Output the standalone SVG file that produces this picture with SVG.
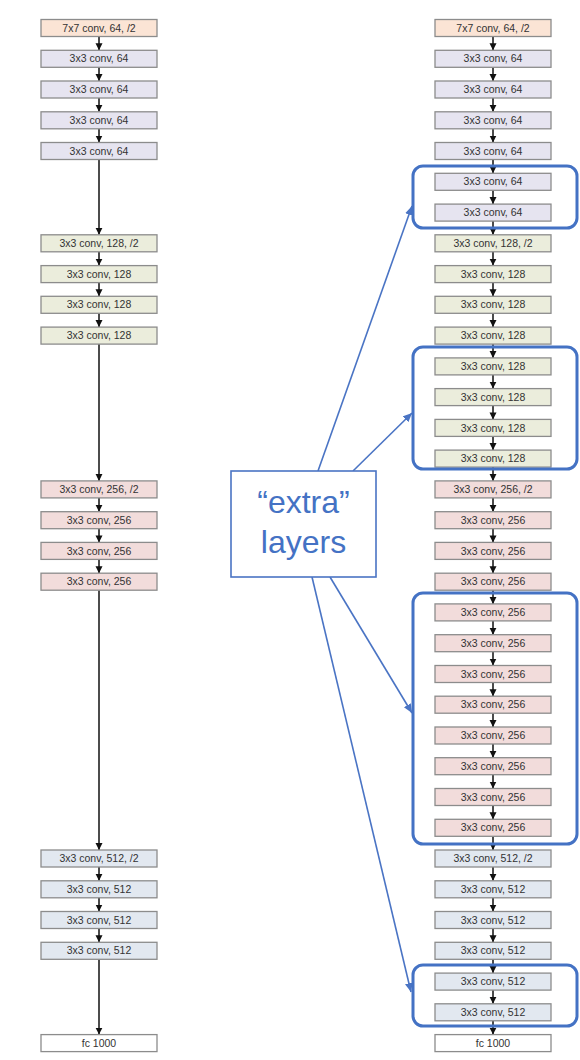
<svg xmlns="http://www.w3.org/2000/svg" width="580" height="1060" viewBox="0 0 580 1060">
<defs>
<style>
.n rect{stroke:#8c8c8c;stroke-width:1.3}
.n text{font-family:"Liberation Sans",Arial,sans-serif;font-size:10.5px;fill:#333;text-anchor:middle}
.c7 rect{fill:#fbe4d5}
.c64 rect{fill:#e6e4f0}
.c128 rect{fill:#ebeddc}
.c256 rect{fill:#f2dcdb}
.c512 rect{fill:#e2e8f0}
.cfc rect{fill:#ffffff}
.k line{stroke:#111;stroke-width:1.5;marker-end:url(#ah)}
.b line{stroke:#4a74c4;stroke-width:1.6;marker-end:url(#bh)}
.grp{fill:none;stroke:#4472c4;stroke-width:3}
.lbl{font-family:"Liberation Sans",Arial,sans-serif;font-size:32px;fill:#4472c4;text-anchor:middle}
</style>
<marker id="ah" markerUnits="userSpaceOnUse" markerWidth="8" markerHeight="8" refX="7" refY="3.5" orient="auto"><path d="M0,0 L7,3.5 L0,7 z" fill="#111"/></marker>
<marker id="bh" markerUnits="userSpaceOnUse" markerWidth="10" markerHeight="10" refX="9" refY="4" orient="auto"><path d="M0,0 L9,4 L0,8 z" fill="#4a74c4"/></marker>
</defs>
<rect width="580" height="1060" fill="#fff"/>

<g id="connectors">
<g class="k">
<line x1="99" y1="36.5" x2="99" y2="50.3"/>
<line x1="99" y1="67.3" x2="99" y2="81"/>
<line x1="99" y1="98" x2="99" y2="111.8"/>
<line x1="99" y1="128.8" x2="99" y2="142.5"/>
<line x1="99" y1="159.5" x2="99" y2="234.8"/>
<line x1="99" y1="251.8" x2="99" y2="265.6"/>
<line x1="99" y1="282.6" x2="99" y2="296.3"/>
<line x1="99" y1="313.3" x2="99" y2="327.1"/>
<line x1="99" y1="344.1" x2="99" y2="480.9"/>
<line x1="99" y1="497.9" x2="99" y2="511.7"/>
<line x1="99" y1="528.7" x2="99" y2="542.4"/>
<line x1="99" y1="559.4" x2="99" y2="573.2"/>
<line x1="99" y1="590.2" x2="99" y2="850"/>
<line x1="99" y1="867" x2="99" y2="880.8"/>
<line x1="99" y1="897.8" x2="99" y2="911.5"/>
<line x1="99" y1="928.5" x2="99" y2="942.3"/>
<line x1="99" y1="959.3" x2="99" y2="1034.6"/>

<line x1="493" y1="36.5" x2="493" y2="50.3"/>
<line x1="493" y1="67.3" x2="493" y2="81"/>
<line x1="493" y1="98" x2="493" y2="111.8"/>
<line x1="493" y1="128.8" x2="493" y2="142.5"/>
<line x1="493" y1="159.5" x2="493" y2="173.3"/>
<line x1="493" y1="190.3" x2="493" y2="204.1"/>
<line x1="493" y1="221.1" x2="493" y2="234.8"/>
<line x1="493" y1="251.8" x2="493" y2="265.6"/>
<line x1="493" y1="282.6" x2="493" y2="296.3"/>
<line x1="493" y1="313.3" x2="493" y2="327.1"/>
<line x1="493" y1="344.1" x2="493" y2="357.9"/>
<line x1="493" y1="374.9" x2="493" y2="388.6"/>
<line x1="493" y1="405.6" x2="493" y2="419.4"/>
<line x1="493" y1="436.4" x2="493" y2="450.1"/>
<line x1="493" y1="467.1" x2="493" y2="480.9"/>
<line x1="493" y1="497.9" x2="493" y2="511.7"/>
<line x1="493" y1="528.7" x2="493" y2="542.4"/>
<line x1="493" y1="559.4" x2="493" y2="573.2"/>
<line x1="493" y1="590.2" x2="493" y2="603.9"/>
<line x1="493" y1="620.9" x2="493" y2="634.7"/>
<line x1="493" y1="651.7" x2="493" y2="665.5"/>
<line x1="493" y1="682.5" x2="493" y2="696.2"/>
<line x1="493" y1="713.2" x2="493" y2="727"/>
<line x1="493" y1="744" x2="493" y2="757.7"/>
<line x1="493" y1="774.7" x2="493" y2="788.5"/>
<line x1="493" y1="805.5" x2="493" y2="819.3"/>
<line x1="493" y1="836.3" x2="493" y2="850"/>
<line x1="493" y1="867" x2="493" y2="880.8"/>
<line x1="493" y1="897.8" x2="493" y2="911.5"/>
<line x1="493" y1="928.5" x2="493" y2="942.3"/>
<line x1="493" y1="959.3" x2="493" y2="973.1"/>
<line x1="493" y1="990.1" x2="493" y2="1003.8"/>
<line x1="493" y1="1020.8" x2="493" y2="1034.6"/>
</g>
<g class="b">
<line x1="318" y1="471" x2="412" y2="206"/>
<line x1="353" y1="471" x2="412" y2="413"/>
<line x1="330" y1="577" x2="412" y2="713"/>
<line x1="312" y1="577" x2="411" y2="992"/>
</g>
</g>

<g id="left-column">
<g id="L0" class="n c7"><rect x="41" y="19.5" width="116" height="17"/><text x="99" y="31.6">7x7 conv, 64, /2</text></g>
<g id="L1" class="n c64"><rect x="41" y="50.3" width="116" height="17"/><text x="99" y="62.4">3x3 conv, 64</text></g>
<g id="L2" class="n c64"><rect x="41" y="81" width="116" height="17"/><text x="99" y="93.1">3x3 conv, 64</text></g>
<g id="L3" class="n c64"><rect x="41" y="111.8" width="116" height="17"/><text x="99" y="123.9">3x3 conv, 64</text></g>
<g id="L4" class="n c64"><rect x="41" y="142.5" width="116" height="17"/><text x="99" y="154.6">3x3 conv, 64</text></g>
<g id="L7" class="n c128"><rect x="41" y="234.8" width="116" height="17"/><text x="99" y="246.9">3x3 conv, 128, /2</text></g>
<g id="L8" class="n c128"><rect x="41" y="265.6" width="116" height="17"/><text x="99" y="277.7">3x3 conv, 128</text></g>
<g id="L9" class="n c128"><rect x="41" y="296.3" width="116" height="17"/><text x="99" y="308.4">3x3 conv, 128</text></g>
<g id="L10" class="n c128"><rect x="41" y="327.1" width="116" height="17"/><text x="99" y="339.2">3x3 conv, 128</text></g>
<g id="L15" class="n c256"><rect x="41" y="480.9" width="116" height="17"/><text x="99" y="493">3x3 conv, 256, /2</text></g>
<g id="L16" class="n c256"><rect x="41" y="511.7" width="116" height="17"/><text x="99" y="523.8">3x3 conv, 256</text></g>
<g id="L17" class="n c256"><rect x="41" y="542.4" width="116" height="17"/><text x="99" y="554.5">3x3 conv, 256</text></g>
<g id="L18" class="n c256"><rect x="41" y="573.2" width="116" height="17"/><text x="99" y="585.3">3x3 conv, 256</text></g>
<g id="L27" class="n c512"><rect x="41" y="850" width="116" height="17"/><text x="99" y="862.1">3x3 conv, 512, /2</text></g>
<g id="L28" class="n c512"><rect x="41" y="880.8" width="116" height="17"/><text x="99" y="892.9">3x3 conv, 512</text></g>
<g id="L29" class="n c512"><rect x="41" y="911.5" width="116" height="17"/><text x="99" y="923.6">3x3 conv, 512</text></g>
<g id="L30" class="n c512"><rect x="41" y="942.3" width="116" height="17"/><text x="99" y="954.4">3x3 conv, 512</text></g>
<g id="L33" class="n cfc"><rect x="41" y="1034.6" width="116" height="17"/><text x="99" y="1046.7">fc 1000</text></g>
</g>

<g id="right-column">
<g id="R0" class="n c7"><rect x="435" y="19.5" width="116" height="17"/><text x="493" y="31.6">7x7 conv, 64, /2</text></g>
<g id="R1" class="n c64"><rect x="435" y="50.3" width="116" height="17"/><text x="493" y="62.4">3x3 conv, 64</text></g>
<g id="R2" class="n c64"><rect x="435" y="81" width="116" height="17"/><text x="493" y="93.1">3x3 conv, 64</text></g>
<g id="R3" class="n c64"><rect x="435" y="111.8" width="116" height="17"/><text x="493" y="123.9">3x3 conv, 64</text></g>
<g id="R4" class="n c64"><rect x="435" y="142.5" width="116" height="17"/><text x="493" y="154.6">3x3 conv, 64</text></g>
<g id="R5" class="n c64"><rect x="435" y="173.3" width="116" height="17"/><text x="493" y="185.4">3x3 conv, 64</text></g>
<g id="R6" class="n c64"><rect x="435" y="204.1" width="116" height="17"/><text x="493" y="216.2">3x3 conv, 64</text></g>
<g id="R7" class="n c128"><rect x="435" y="234.8" width="116" height="17"/><text x="493" y="246.9">3x3 conv, 128, /2</text></g>
<g id="R8" class="n c128"><rect x="435" y="265.6" width="116" height="17"/><text x="493" y="277.7">3x3 conv, 128</text></g>
<g id="R9" class="n c128"><rect x="435" y="296.3" width="116" height="17"/><text x="493" y="308.4">3x3 conv, 128</text></g>
<g id="R10" class="n c128"><rect x="435" y="327.1" width="116" height="17"/><text x="493" y="339.2">3x3 conv, 128</text></g>
<g id="R11" class="n c128"><rect x="435" y="357.9" width="116" height="17"/><text x="493" y="370">3x3 conv, 128</text></g>
<g id="R12" class="n c128"><rect x="435" y="388.6" width="116" height="17"/><text x="493" y="400.7">3x3 conv, 128</text></g>
<g id="R13" class="n c128"><rect x="435" y="419.4" width="116" height="17"/><text x="493" y="431.5">3x3 conv, 128</text></g>
<g id="R14" class="n c128"><rect x="435" y="450.1" width="116" height="17"/><text x="493" y="462.2">3x3 conv, 128</text></g>
<g id="R15" class="n c256"><rect x="435" y="480.9" width="116" height="17"/><text x="493" y="493">3x3 conv, 256, /2</text></g>
<g id="R16" class="n c256"><rect x="435" y="511.7" width="116" height="17"/><text x="493" y="523.8">3x3 conv, 256</text></g>
<g id="R17" class="n c256"><rect x="435" y="542.4" width="116" height="17"/><text x="493" y="554.5">3x3 conv, 256</text></g>
<g id="R18" class="n c256"><rect x="435" y="573.2" width="116" height="17"/><text x="493" y="585.3">3x3 conv, 256</text></g>
<g id="R19" class="n c256"><rect x="435" y="603.9" width="116" height="17"/><text x="493" y="616">3x3 conv, 256</text></g>
<g id="R20" class="n c256"><rect x="435" y="634.7" width="116" height="17"/><text x="493" y="646.8">3x3 conv, 256</text></g>
<g id="R21" class="n c256"><rect x="435" y="665.5" width="116" height="17"/><text x="493" y="677.6">3x3 conv, 256</text></g>
<g id="R22" class="n c256"><rect x="435" y="696.2" width="116" height="17"/><text x="493" y="708.3">3x3 conv, 256</text></g>
<g id="R23" class="n c256"><rect x="435" y="727" width="116" height="17"/><text x="493" y="739.1">3x3 conv, 256</text></g>
<g id="R24" class="n c256"><rect x="435" y="757.7" width="116" height="17"/><text x="493" y="769.8">3x3 conv, 256</text></g>
<g id="R25" class="n c256"><rect x="435" y="788.5" width="116" height="17"/><text x="493" y="800.6">3x3 conv, 256</text></g>
<g id="R26" class="n c256"><rect x="435" y="819.3" width="116" height="17"/><text x="493" y="831.4">3x3 conv, 256</text></g>
<g id="R27" class="n c512"><rect x="435" y="850" width="116" height="17"/><text x="493" y="862.1">3x3 conv, 512, /2</text></g>
<g id="R28" class="n c512"><rect x="435" y="880.8" width="116" height="17"/><text x="493" y="892.9">3x3 conv, 512</text></g>
<g id="R29" class="n c512"><rect x="435" y="911.5" width="116" height="17"/><text x="493" y="923.6">3x3 conv, 512</text></g>
<g id="R30" class="n c512"><rect x="435" y="942.3" width="116" height="17"/><text x="493" y="954.4">3x3 conv, 512</text></g>
<g id="R31" class="n c512"><rect x="435" y="973.1" width="116" height="17"/><text x="493" y="985.2">3x3 conv, 512</text></g>
<g id="R32" class="n c512"><rect x="435" y="1003.8" width="116" height="17"/><text x="493" y="1015.9">3x3 conv, 512</text></g>
<g id="R33" class="n cfc"><rect x="435" y="1034.6" width="116" height="17"/><text x="493" y="1046.7">fc 1000</text></g>
</g>

<g id="extra-groups">
<rect class="grp" x="413" y="166" width="164" height="62" rx="10"/>
<rect class="grp" x="413" y="347" width="164" height="122" rx="10"/>
<rect class="grp" x="413" y="593" width="164" height="251" rx="10"/>
<rect class="grp" x="413" y="965" width="164" height="61" rx="10"/>
</g>

<g id="extra-label">
<rect x="231" y="471" width="145" height="106" fill="#fff" stroke="#4a74c4" stroke-width="1.6"/>
<text class="lbl" x="303.5" y="513">“extra”</text>
<text class="lbl" x="303.5" y="553">layers</text>
</g>
</svg>
